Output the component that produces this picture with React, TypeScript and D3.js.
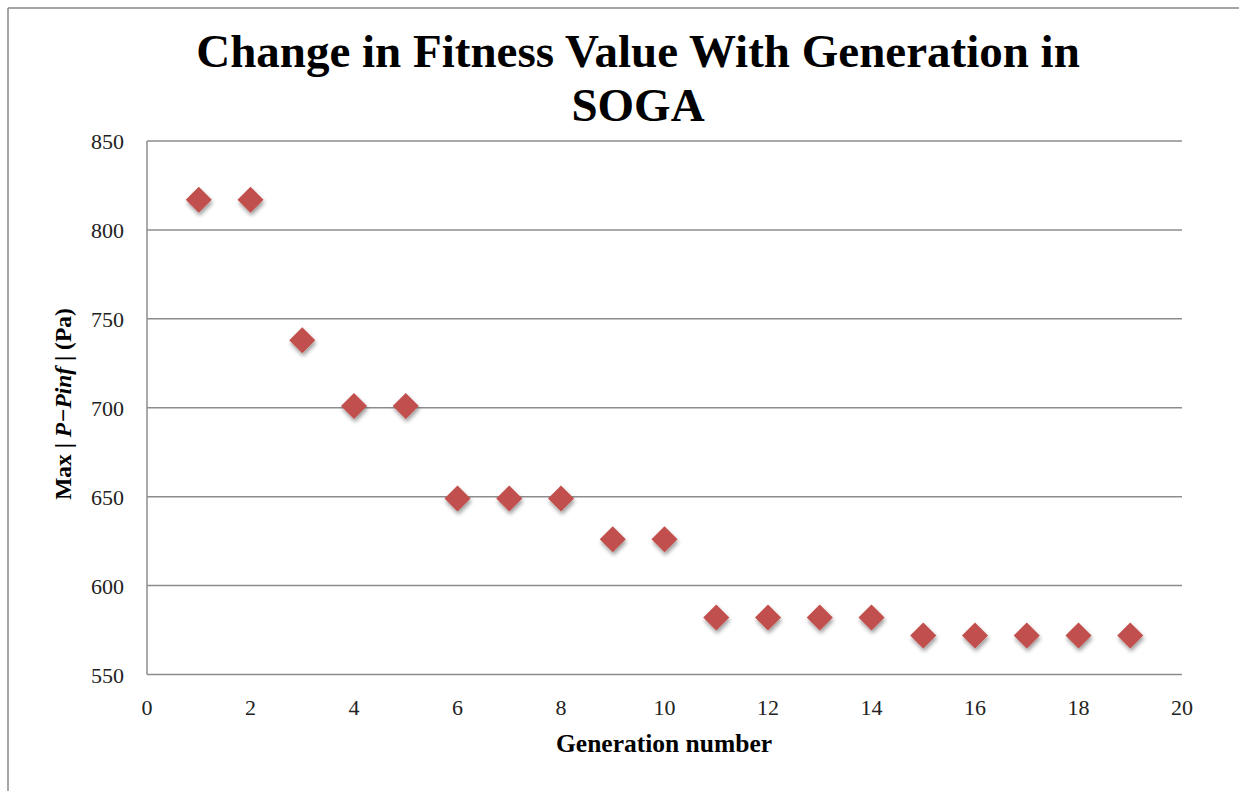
import React from "react";
import * as d3 from "d3";

const generations = [1, 2, 3, 4, 5, 6, 7, 8, 9, 10, 11, 12, 13, 14, 15, 16, 17, 18, 19];
const fitness = [817, 817, 738, 701, 701, 649, 649, 649, 626, 626, 582, 582, 582, 582, 572, 572, 572, 572, 572];
const xTicks = [0, 2, 4, 6, 8, 10, 12, 14, 16, 18, 20];
const yTicks = [550, 600, 650, 700, 750, 800, 850];
const titleLines = ["Change in Fitness Value With Generation in", "SOGA"];

const W = 1239;
const H = 791;
const FONT = "'Liberation Serif', 'Times New Roman', serif";

export default function App() {
  const left = 147, right = 1182, top = 141, bottom = 674.5;
  const x = d3.scaleLinear().domain([0, 20]).range([left, right]);
  const y = d3.scaleLinear().domain([550, 850]).range([bottom, top]);
  const s = 13;
  const diamond = `M0,${-s} L${s},0 L0,${s} L${-s},0 Z`;

  return (
    <svg width={W} height={H} style={{ position: "absolute", left: 0, top: 0, background: "#fff" }}>
      <defs>
        <filter id="shadow" x="-50%" y="-50%" width="200%" height="200%">
          <feGaussianBlur in="SourceAlpha" stdDeviation="2" />
          <feOffset dx="1" dy="3" result="b" />
          <feComponentTransfer>
            <feFuncA type="linear" slope="0.4" />
          </feComponentTransfer>
          <feMerge>
            <feMergeNode />
            <feMergeNode in="SourceGraphic" />
          </feMerge>
        </filter>
      </defs>
      <line x1={8} y1={8} x2={W} y2={8} stroke="#888" strokeWidth={1.5} />
      <line x1={8} y1={8} x2={8} y2={H} stroke="#888" strokeWidth={1.5} />

      {titleLines.map((t, i) => (
        <text key={i} x={638} y={67 + i * 54} textAnchor="middle" fontFamily={FONT} fontWeight="bold" fontSize={47} fill="#000">
          {t}
        </text>
      ))}

      {yTicks.map((v) => (
        <g key={v}>
          {v !== 550 && <line x1={left} x2={right} y1={y(v)} y2={y(v)} stroke="#8c8c8c" strokeWidth={1.5} />}
          <text x={124} y={y(v) + 8} textAnchor="end" fontFamily={FONT} fontSize={22} fill="#222">{v}</text>
        </g>
      ))}
      <line x1={left} x2={left} y1={top} y2={bottom} stroke="#8c8c8c" strokeWidth={1.5} />
      <line x1={left} x2={right} y1={bottom} y2={bottom} stroke="#8c8c8c" strokeWidth={1.5} />

      {xTicks.map((v) => (
        <text key={v} x={x(v)} y={715} textAnchor="middle" fontFamily={FONT} fontSize={22} fill="#222">{v}</text>
      ))}

      <text x={664} y={752} textAnchor="middle" fontFamily={FONT} fontWeight="bold" fontSize={25.5} fill="#000">Generation number</text>

      <text transform="translate(71,404) rotate(-90)" textAnchor="middle" fontFamily={FONT} fontWeight="bold" fontSize={23.5} fill="#000">
        Max | <tspan fontStyle="italic">P−Pinf</tspan> | (Pa)
      </text>

      {generations.map((g, i) => (
        <path key={g} d={diamond} transform={`translate(${x(g)},${y(fitness[i])})`} fill="#C0504D" filter="url(#shadow)" />
      ))}
    </svg>
  );
}
